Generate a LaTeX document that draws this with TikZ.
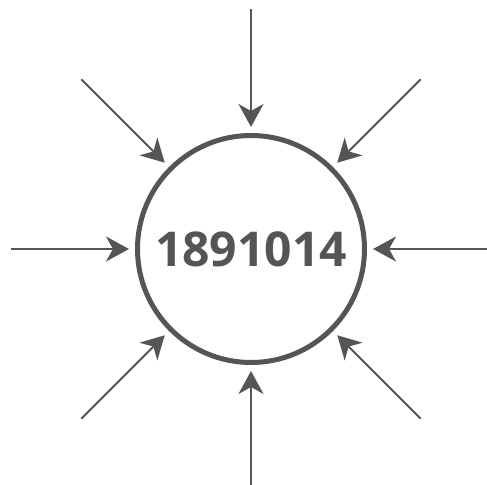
\documentclass[tikz,border=0pt]{standalone}
\usepackage{fontspec}
\setsansfont{Open Sans}
\usetikzlibrary{arrows.meta, calc}
\definecolor{ink}{HTML}{555557}

\begin{document}
\begin{tikzpicture}[
  x=0.5pt, y=-0.5pt,
  core/.style = {draw=ink, circle, line width=2.5pt, minimum size=113.5pt,
                 inner sep=0pt, text=ink, font=\sffamily\bfseries\fontsize{24}{28}\selectfont},
  arr/.style  = {draw=ink, line width=1pt, shorten >=3pt,
                 -{Stealth[length=11.5pt, width=12.5pt, inset=3.5pt]}},
]
  \useasboundingbox (0,0) rectangle (487,485);
  \node[core] (num) at (251,249) {1891014};
  \foreach \ang in {0,45,...,315}{
    \coordinate (src\ang) at ($(num.center)+(\ang:240)$);
    \draw[arr] (src\ang) -- (num);
  }
\end{tikzpicture}
\end{document}
